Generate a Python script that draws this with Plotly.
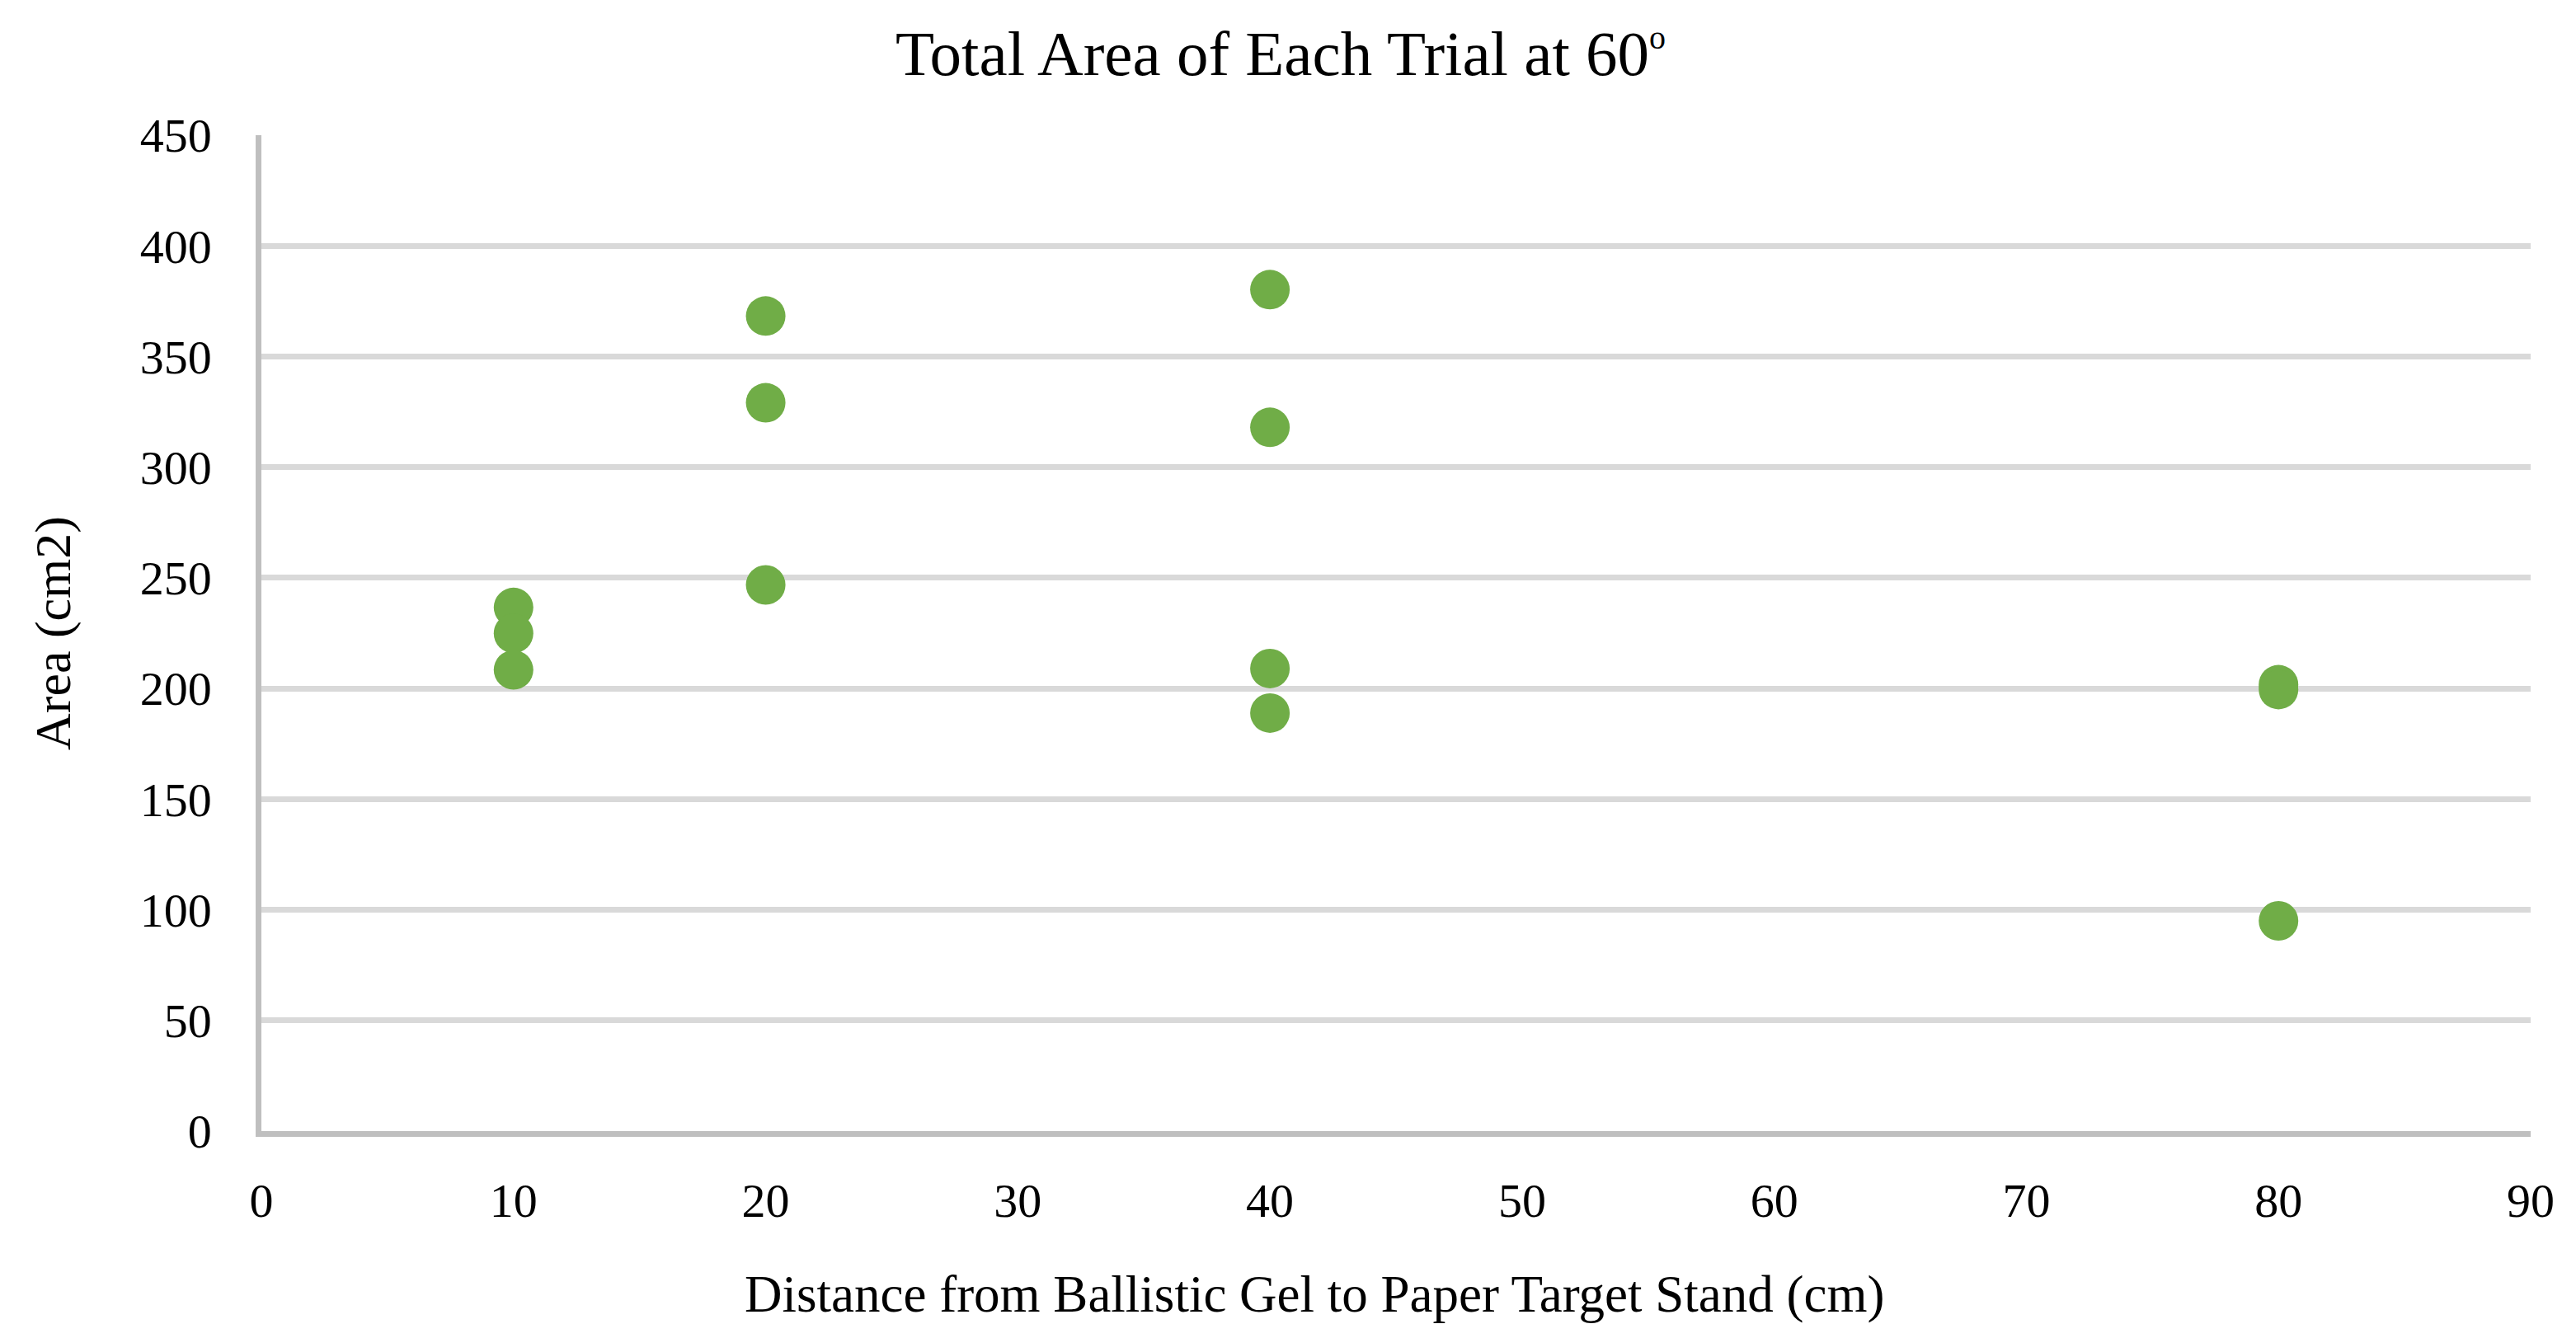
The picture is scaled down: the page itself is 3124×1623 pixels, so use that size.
import plotly.graph_objects as go

# Data
distance_cm = [10, 10, 10, 20, 20, 20, 40, 40, 40, 40, 80, 80, 80]
area_cm2 = [236.6, 224.9, 208.4, 368.3, 329.1, 246.8, 380.2, 318.0, 209.0, 188.9, 201.7, 199.5, 95.0]

x_ticks = [0, 10, 20, 30, 40, 50, 60, 70, 80, 90]
y_ticks = [0, 50, 100, 150, 200, 250, 300, 350, 400, 450]

title_text = "Total Area of Each Trial at 60<sup><span style='font-size:40px'>o</span></sup>"
x_title = "Distance from Ballistic Gel to Paper Target Stand (cm)"
y_title = "Area (cm2)"

FONT = "Liberation Serif"
W, H = 3124, 1623
ML, MR, MT, MB = 317, 55, 164, 251

fig = go.Figure()
fig.add_trace(go.Scatter(
    x=distance_cm, y=area_cm2, mode="markers",
    marker=dict(size=48, color="#70ad47", line=dict(width=0)),
    showlegend=False, hoverinfo="x+y",
))

fig.update_layout(
    width=W, height=H,
    margin=dict(l=ML, r=MR, t=MT, b=MB, pad=0),
    paper_bgcolor="white", plot_bgcolor="white",
    font=dict(family=FONT, color="black", size=58),
    title=dict(text=title_text, x=1553 / W, xref="container", xanchor="center",
               y=1 - 64 / H, yref="container", yanchor="middle",
               font=dict(family=FONT, size=77, color="black")),
    xaxis=dict(range=[0, 90], tickvals=x_ticks, ticktext=[str(v) for v in x_ticks],
               showgrid=False, zeroline=False, showline=True, linecolor="#bfbfbf",
               linewidth=6.5, ticks="", ticklabelstandoff=28,
               tickfont=dict(family=FONT, size=58, color="black"), fixedrange=True),
    yaxis=dict(range=[0, 450], tickvals=y_ticks, ticktext=[str(v) for v in y_ticks],
               showgrid=True, gridcolor="#d9d9d9", gridwidth=6.5, zeroline=False,
               showline=True, linecolor="#bfbfbf", linewidth=6.5, ticks="",
               ticklabelstandoff=42,
               tickfont=dict(family=FONT, size=58, color="black"), fixedrange=True),
    annotations=[
        dict(text=x_title, xref="paper", yref="paper",
             x=(1594 - ML) / (W - ML - MR), y=-(1570 - (H - MB)) / (H - MT - MB),
             xanchor="center", yanchor="middle", showarrow=False,
             font=dict(family=FONT, size=63, color="black")),
        dict(text=y_title, xref="paper", yref="paper",
             x=(64 - ML) / (W - ML - MR), y=0.5, textangle=-90,
             xanchor="center", yanchor="middle", showarrow=False,
             font=dict(family=FONT, size=62, color="black")),
    ],
)

fig.write_html(
    "out.html",
    config={"displayModeBar": False},
    post_script="document.body.style.margin='0';document.body.style.overflow='hidden';",
)
